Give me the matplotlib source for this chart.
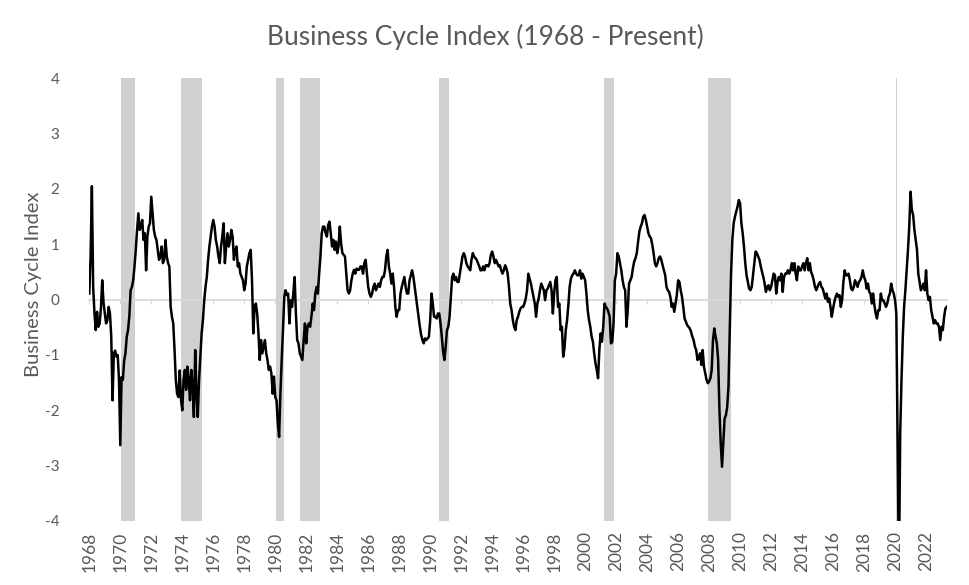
import numpy as np
import matplotlib
matplotlib.use("Agg")
import matplotlib.pyplot as plt

plt.rcParams['font.family'] = ['Lato', 'DejaVu Sans']
plt.rcParams['axes.unicode_minus'] = False

title = "Business Cycle Index (1968 - Present)"
y_label = "Business Cycle Index"
start_year = 1968

# Monthly Business Cycle Index, Jan 1968 onward (one row per year)
bci = [
    0.11, 0.78, 2.05, 0.23, -0.25, -0.55, -0.22, -0.49, -0.43, -0.16, 0.35, -0.05,   # 1968
    -0.25, -0.43, -0.37, -0.13, -0.25, -0.67, -1.82, -0.97, -0.92, -1.03, -1.0, -1.45,  # 1969
    -2.63, -1.4, -1.45, -1.1, -0.97, -0.67, -0.55, -0.3, 0.17, 0.23, 0.35, 0.6,        # 1970
    0.9, 1.26, 1.56, 1.26, 1.32, 1.44, 1.08, 1.2, 0.53, 1.14, 1.32, 1.38,              # 1971
    1.86, 1.56, 1.26, 1.14, 1.08, 0.9, 0.72, 0.78, 0.96, 0.66, 0.72, 1.08,             # 1972
    0.78, 0.66, 0.6, -0.13, -0.31, -0.43, -0.9, -1.45, -1.7, -1.76, -1.28, -1.8,       # 1973
    -2.0, -1.45, -1.27, -1.63, -1.21, -1.45, -1.82, -1.27, -1.57, -2.12, -0.91, -1.7,  # 1974
    -2.12, -1.45, -1.03, -0.61, -0.37, -0.01, 0.23, 0.41, 0.72, 0.96, 1.14, 1.32,      # 1975
    1.44, 1.32, 1.08, 0.96, 0.78, 0.66, 0.96, 1.14, 1.38, 0.66, 0.96, 1.2,             # 1976
    0.96, 1.08, 1.26, 1.14, 0.72, 0.9, 0.96, 0.6, 0.66, 0.47, 0.41, 0.35,              # 1977
    0.17, 0.29, 0.6, 0.72, 0.84, 0.9, 0.35, -0.61, -0.13, -0.07, -0.25, -0.61,         # 1978
    -1.09, -0.73, -0.97, -0.85, -0.73, -0.97, -1.09, -1.27, -1.21, -1.33, -1.7, -1.39, # 1979
    -1.76, -1.82, -2.24, -2.48, -1.7, -1.09, -0.55, 0.05, 0.17, 0.08, 0.11, -0.43,     # 1980
    -0.01, -0.13, 0.11, 0.41, -0.25, -0.73, -0.79, -0.97, -1.03, -1.09, -0.73, -0.43,  # 1981
    -0.79, -0.49, -0.43, -0.49, -0.31, -0.07, -0.19, 0.11, 0.23, 0.11, 0.47, 0.78,     # 1982
    1.2, 1.32, 1.32, 1.2, 1.14, 1.35, 1.41, 1.2, 0.96, 1.08, 0.9, 1.05,                # 1983
    0.84, 0.96, 1.32, 1.02, 0.84, 0.81, 0.78, 0.47, 0.17, 0.11, 0.17, 0.35,            # 1984
    0.47, 0.54, 0.47, 0.56, 0.54, 0.54, 0.6, 0.6, 0.47, 0.66, 0.72, 0.47,              # 1985
    0.23, 0.11, 0.05, 0.11, 0.23, 0.29, 0.17, 0.23, 0.29, 0.23, 0.35, 0.41,            # 1986
    0.41, 0.53, 0.78, 0.9, 0.6, 0.47, 0.29, 0.47, 0.23, -0.13, -0.31, -0.19,           # 1987
    -0.19, 0.11, 0.23, 0.32, 0.41, 0.23, 0.11, 0.11, 0.35, 0.44, 0.53, 0.41,           # 1988
    0.23, 0.05, -0.13, -0.31, -0.49, -0.64, -0.73, -0.79, -0.7, -0.73, -0.7, -0.67,    # 1989
    -0.37, 0.11, -0.07, -0.31, -0.31, -0.34, -0.25, -0.25, -0.43, -0.67, -0.94, -1.09, # 1990
    -0.85, -0.55, -0.49, -0.31, 0.05, 0.41, 0.47, 0.35, 0.41, 0.32, 0.32, 0.47,        # 1991
    0.62, 0.78, 0.84, 0.78, 0.66, 0.6, 0.57, 0.53, 0.72, 0.84, 0.78, 0.75,             # 1992
    0.72, 0.66, 0.6, 0.53, 0.53, 0.6, 0.53, 0.62, 0.62, 0.6, 0.66, 0.81,               # 1993
    0.87, 0.78, 0.66, 0.72, 0.66, 0.6, 0.62, 0.53, 0.47, 0.53, 0.62, 0.57,             # 1994
    0.47, 0.23, -0.07, -0.19, -0.37, -0.49, -0.55, -0.37, -0.31, -0.22, -0.16, -0.13,  # 1995
    -0.13, -0.07, 0.02, 0.17, 0.47, 0.38, 0.29, 0.17, 0.05, -0.07, -0.31, -0.07,       # 1996
    0.02, 0.17, 0.29, 0.23, 0.17, -0.01, 0.17, 0.2, 0.26, 0.32, 0.17, -0.25,           # 1997
    0.11, 0.35, 0.41, -0.13, -0.07, -0.55, -0.49, -1.03, -0.88, -0.55, -0.37, -0.1,    # 1998
    0.23, 0.38, 0.44, 0.47, 0.53, 0.47, 0.44, 0.44, 0.53, 0.38, 0.47, 0.41,            # 1999
    0.35, 0.11, -0.19, -0.37, -0.49, -0.67, -0.76, -0.97, -1.15, -1.27, -1.42, -0.91,  # 2000
    -0.61, -0.76, -0.49, -0.07, -0.13, -0.16, -0.22, -0.31, -0.79, -0.76, -0.43, 0.35, # 2001
    0.47, 0.84, 0.78, 0.66, 0.53, 0.35, 0.23, 0.17, -0.49, -0.19, 0.29, 0.35,          # 2002
    0.41, 0.57, 0.69, 0.75, 0.84, 1.05, 1.23, 1.32, 1.38, 1.5, 1.53, 1.44,             # 2003
    1.32, 1.2, 1.14, 1.11, 0.99, 0.84, 0.66, 0.6, 0.66, 0.75, 0.78, 0.72,              # 2004
    0.62, 0.53, 0.44, 0.23, 0.17, 0.14, 0.05, -0.13, -0.07, -0.22, -0.07, 0.08,        # 2005
    0.35, 0.32, 0.17, 0.05, -0.13, -0.34, -0.4, -0.46, -0.49, -0.52, -0.58, -0.67,     # 2006
    -0.73, -0.85, -0.91, -1.09, -1.06, -0.97, -1.18, -0.91, -1.21, -1.33, -1.45, -1.51, # 2007
    -1.48, -1.42, -1.27, -0.73, -0.52, -0.67, -0.79, -1.09, -1.99, -2.6, -3.02, -2.6,  # 2008
    -2.15, -2.09, -1.94, -1.57, -0.55, 0.47, 1.08, 1.38, 1.5, 1.59, 1.68, 1.8,         # 2009
    1.74, 1.38, 1.2, 0.96, 0.66, 0.44, 0.32, 0.2, 0.17, 0.23, 0.44, 0.66,              # 2010
    0.87, 0.84, 0.78, 0.72, 0.6, 0.5, 0.41, 0.29, 0.14, 0.23, 0.26, 0.17,              # 2011
    0.23, 0.35, 0.47, 0.44, 0.11, 0.32, 0.41, 0.35, 0.47, 0.14, 0.41, 0.47,            # 2012
    0.47, 0.53, 0.47, 0.53, 0.66, 0.53, 0.66, 0.47, 0.35, 0.6, 0.53, 0.53,             # 2013
    0.6, 0.66, 0.53, 0.66, 0.75, 0.53, 0.66, 0.5, 0.44, 0.35, 0.23, 0.17,              # 2014
    0.23, 0.29, 0.32, 0.23, 0.2, 0.11, 0.02, 0.11, -0.04, 0.02, -0.13, -0.31,          # 2015
    -0.16, -0.04, 0.05, 0.11, 0.05, 0.08, -0.13, -0.01, 0.32, 0.53, 0.44, 0.44,        # 2016
    0.47, 0.35, 0.2, 0.17, 0.23, 0.35, 0.29, 0.23, 0.32, 0.35, 0.41, 0.53,             # 2017
    0.41, 0.35, 0.2, 0.29, 0.14, 0.11, -0.07, 0.11, -0.1, -0.25, -0.34, -0.19,         # 2018
    -0.19, 0.11, -0.01, -0.01, -0.07, -0.13, -0.07, 0.05, 0.11, 0.29, 0.17, 0.11,      # 2019
    -0.01, -0.25, -2.6, -5.0, -2.4, -1.45, -0.67, -0.13, 0.17, 0.53, 0.9, 1.32,        # 2020
    1.95, 1.62, 1.53, 1.26, 1.08, 0.9, 0.47, 0.32, 0.17, 0.23, 0.29, 0.17,             # 2021
    0.53, 0.11, -0.01, 0.05, -0.19, -0.31, -0.43, -0.37, -0.43, -0.43, -0.49, -0.73,   # 2022
    -0.49, -0.55, -0.31, -0.16, -0.13,                                                 # 2023
]

# NBER recession shading (decimal years)
recession_start = [1970.04, 1973.94, 1980.05, 1981.60, 1990.56, 2001.20, 2007.90, 2020.08]
recession_end = [1970.94, 1975.26, 1980.55, 1982.90, 1991.19, 2001.85, 2009.40, 2020.15]

tick_years = list(range(1968, 2023, 2))
tick_labels = [str(y) for y in tick_years]
y_ticks = list(range(-4, 5))
y_tick_labels = [str(v) for v in y_ticks]

months = start_year + np.arange(len(bci)) / 12.0

W, H = 970, 585
fig = plt.figure(figsize=(W / 100, H / 100), dpi=100)
left, right, top, bottom = 89.3, 946.7, 78.3, 521.0
ax = fig.add_axes([left / W, 1 - bottom / H, (right - left) / W, (bottom - top) / H])

text_color = '#595959'

for s, e in zip(recession_start, recession_end):
    ax.axvspan(s, e, color='#d0d0d0', lw=0, zorder=1)

ax.plot(months, bci, color='black', lw=1.8, zorder=3, solid_joinstyle='round')

ax.set_xlim(months[0], months[-1])
ax.set_ylim(-4, 4)

for side in ['top', 'right', 'left']:
    ax.spines[side].set_visible(False)
ax.spines['bottom'].set_position(('data', 0))
ax.spines['bottom'].set_color('#d9d9d9')
ax.spines['bottom'].set_linewidth(1.3)
ax.spines['bottom'].set_zorder(2)

ax.set_xticks(tick_years)
ax.tick_params(axis='x', direction='out', length=3, width=0.8, color='#d9d9d9', labelbottom=False)

sec = ax.secondary_xaxis('bottom')
sec.set_xticks(tick_years, labels=tick_labels)
sec.tick_params(length=0, pad=7.5, labelrotation=90, labelsize=12.5, labelcolor=text_color)
sec.spines['bottom'].set_visible(False)

ax.set_yticks(y_ticks, labels=y_tick_labels)
ax.tick_params(axis='y', length=0, pad=21.5, labelsize=11, labelcolor=text_color)

ax.set_ylabel(y_label, fontsize=14.5, color=text_color)
ax.yaxis.set_label_coords((33 - left) / (right - left), (bottom - 284) / (bottom - top))
ax.yaxis.label.set_va('center')

fig.text(485.5 / W, 1 - 37 / H, title, ha='center', va='center', fontsize=19, color=text_color)

fig.savefig('out.png', dpi=100)
